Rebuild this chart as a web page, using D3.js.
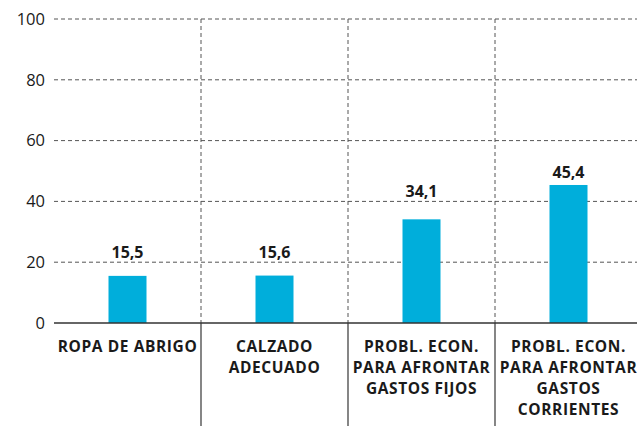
<!DOCTYPE html>
<html>
<head>
<meta charset="utf-8">
<script src="https://cdn.jsdelivr.net/npm/d3@7"></script>
<style>
  body { margin: 0; background: #fff; }
  svg text { font-family: "Open Sans", "Noto Sans", sans-serif; fill: #1a1a1a; }
</style>
</head>
<body>
<svg id="chart" width="637" height="426"></svg>
<script>
// categories (each label split into lines) and values
const categories = ["ROPA DE ABRIGO", "CALZADO ADECUADO", "PROBL. ECON. PARA AFRONTAR GASTOS FIJOS", "PROBL. ECON. PARA AFRONTAR GASTOS CORRIENTES"];
const labelLines = [
  ["ROPA DE ABRIGO"],
  ["CALZADO", "ADECUADO"],
  ["PROBL. ECON.", "PARA AFRONTAR", "GASTOS FIJOS"],
  ["PROBL. ECON.", "PARA AFRONTAR", "GASTOS", "CORRIENTES"]
];
const values = [15.5, 15.6, 34.1, 45.4];
const yTicks = [0, 20, 40, 60, 80, 100];

const svg = d3.select("svg#chart");
const margin = {top: 19, left: 54, bottom: 103};
const width = 588, height = 426 - margin.top - margin.bottom;

const g = svg.append("g").attr("transform", `translate(${margin.left},${margin.top})`);

const x = d3.scaleBand().domain(categories).range([0, width]).paddingInner(0).paddingOuter(0);
const y = d3.scaleLinear().domain([0, 100]).range([height, 0]);
const barW = 38;

// horizontal dashed gridlines
g.selectAll("line.grid").data(yTicks.filter(d => d > 0)).join("line")
  .attr("class", "grid")
  .attr("x1", 0).attr("x2", width)
  .attr("y1", d => y(d)).attr("y2", d => y(d))
  .attr("stroke", "#555").attr("stroke-width", 1).attr("stroke-dasharray", "4,3");

// vertical separators: dashed inside the plot, solid under the axis
const seps = categories.slice(1);
g.selectAll("line.vsep").data(seps).join("line")
  .attr("x1", d => x(d)).attr("x2", d => x(d))
  .attr("y1", y(100)).attr("y2", y(0))
  .attr("stroke", "#555").attr("stroke-width", 1).attr("stroke-dasharray", "4,3");
g.selectAll("line.vsolid").data(seps).join("line")
  .attr("x1", d => x(d)).attr("x2", d => x(d))
  .attr("y1", y(0)).attr("y2", height + margin.bottom)
  .attr("stroke", "#444").attr("stroke-width", 1.3);

// y axis tick labels
g.selectAll("text.ytick").data(yTicks).join("text")
  .attr("x", -9).attr("y", d => y(d)).attr("dy", "0.35em")
  .attr("text-anchor", "end").attr("font-size", 16.5)
  .text(d => d);

// bars
g.selectAll("rect.bar").data(values).join("rect")
  .attr("x", (d, i) => x(categories[i]) + x.bandwidth() / 2 - barW / 2)
  .attr("y", d => y(d))
  .attr("width", barW)
  .attr("height", d => y(0) - y(d))
  .attr("fill", "#00aedb");

// baseline
g.append("line")
  .attr("x1", 0).attr("x2", width).attr("y1", y(0)).attr("y2", y(0))
  .attr("stroke", "#333").attr("stroke-width", 1.5);

// value labels, nudged above a gridline when they would sit on it
function labelY(v) {
  let b = y(v) - 7;
  const hit = yTicks.find(t => t > 0 && y(t) > b - 13 && y(t) <= b + 2);
  if (hit !== undefined) b = y(hit) - 4;
  return b;
}
g.selectAll("text.val").data(values).join("text")
  .attr("x", (d, i) => x(categories[i]) + x.bandwidth() / 2)
  .attr("y", d => labelY(d))
  .attr("text-anchor", "middle").attr("font-size", 16).attr("font-weight", "bold")
  .text(d => d3.format(".1f")(d).replace(".", ","));

// category labels
const cat = g.selectAll("g.cat").data(labelLines).join("g")
  .attr("transform", (d, i) => `translate(${x(categories[i]) + x.bandwidth() / 2},${y(0) + 29})`);
cat.selectAll("text").data(d => d).join("text")
  .attr("y", (d, j) => j * 21)
  .attr("text-anchor", "middle").attr("font-size", 15.5).attr("font-weight", "bold")
  .attr("letter-spacing", 0.6)
  .text(d => d);
</script>
</body>
</html>
